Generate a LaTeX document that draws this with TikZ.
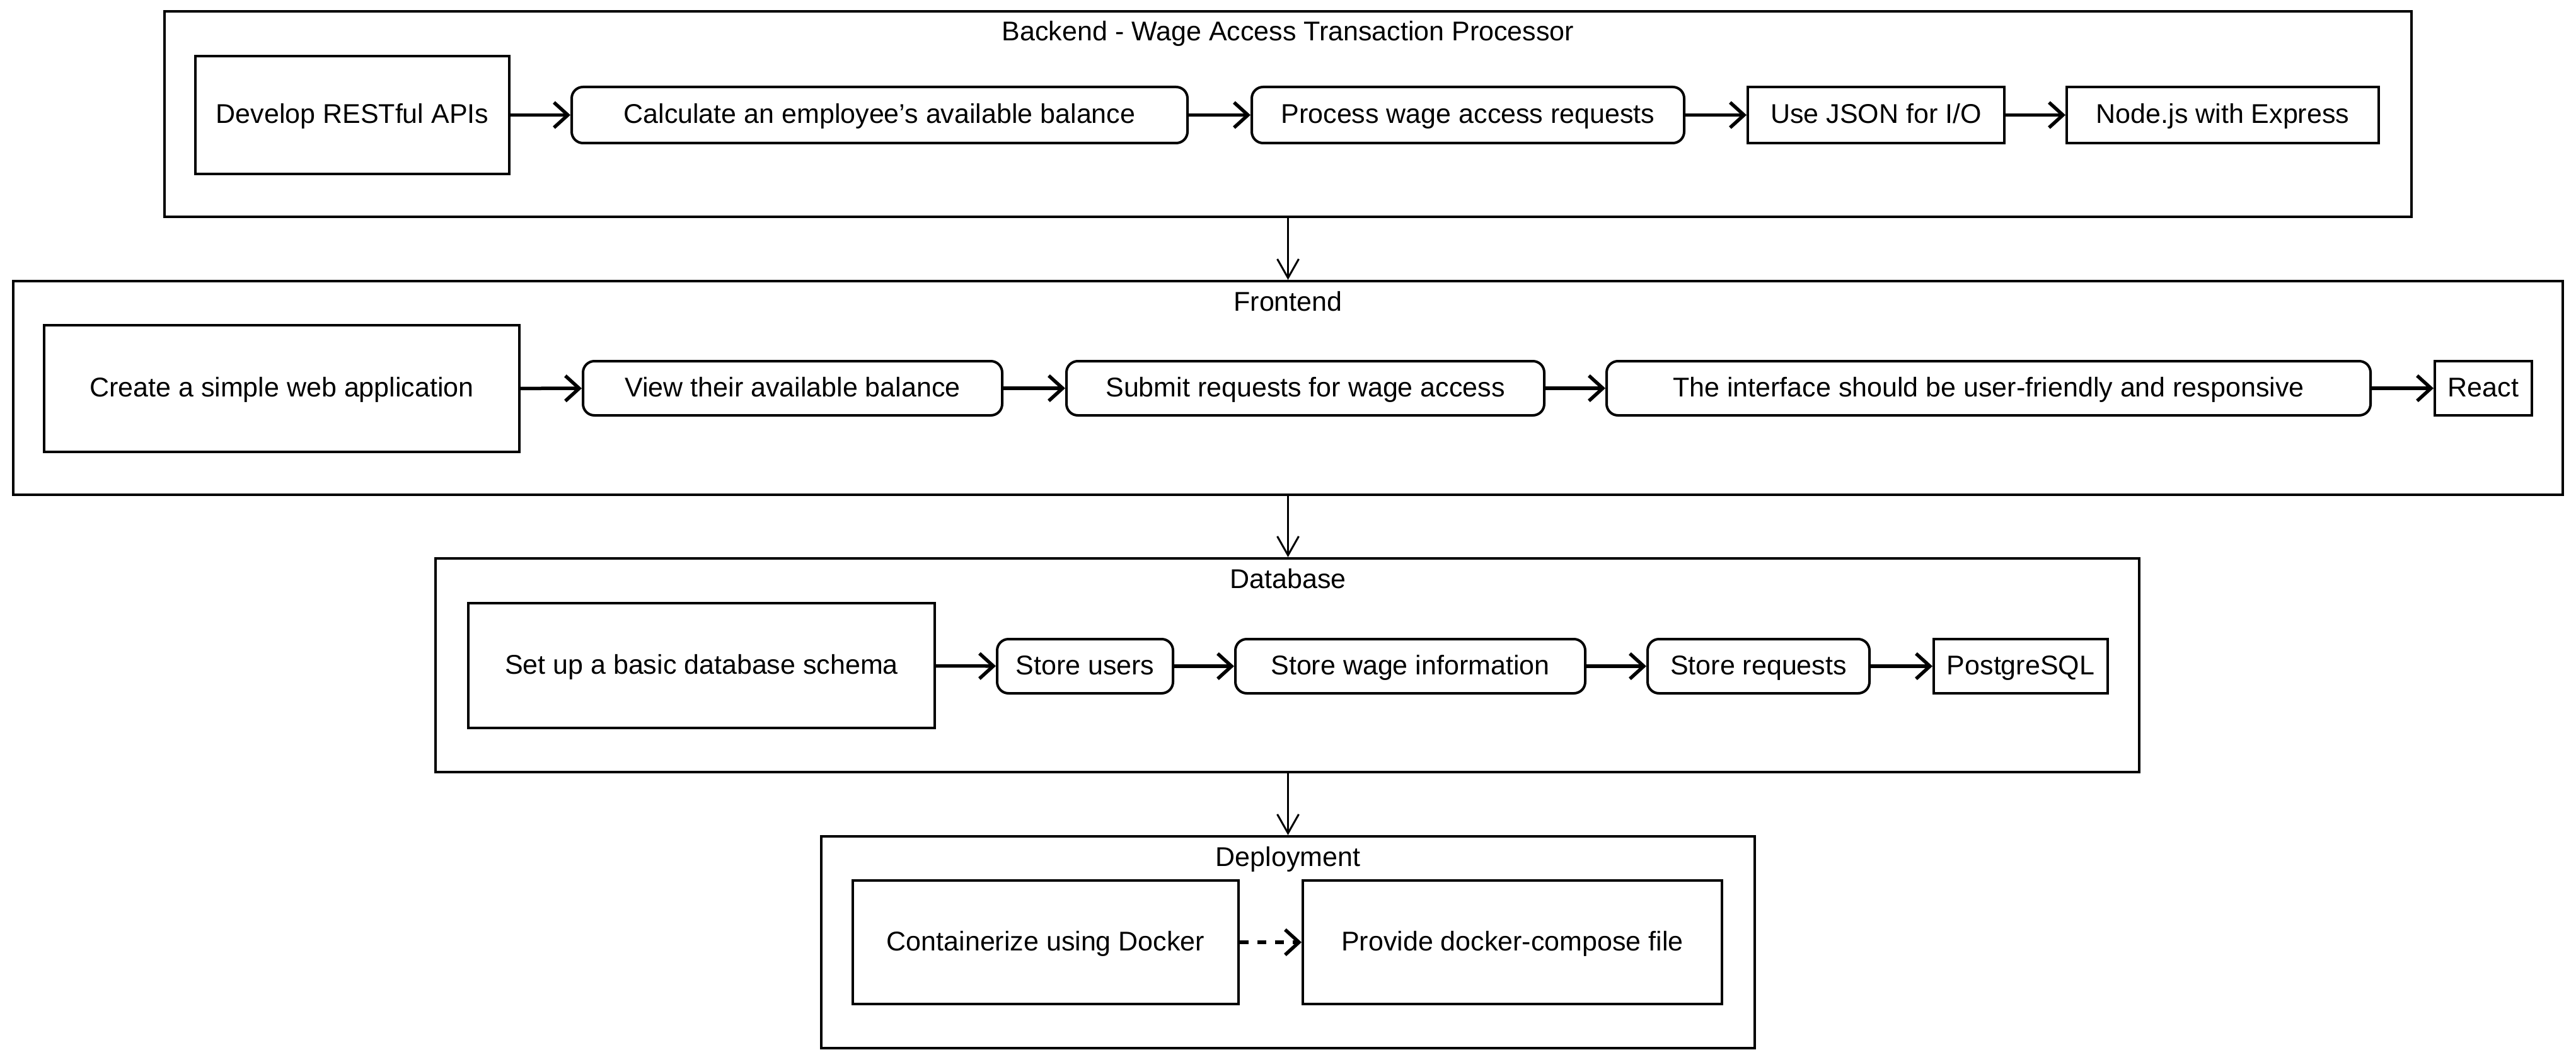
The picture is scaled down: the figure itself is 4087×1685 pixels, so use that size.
\documentclass[tikz,border=0pt]{standalone}
\usepackage{fontspec}
\setmainfont{Liberation Sans}
\usetikzlibrary{arrows.meta}
\begin{document}
\begin{tikzpicture}[x=1pt,y=-1pt,
  txt/.style={font=\fontsize{43}{50}\selectfont, text height=30pt, text depth=4pt},
  cont/.style={draw, line width=4pt, inner sep=0pt},
  box/.style={draw, line width=4pt, inner sep=0pt, align=center, txt},
  rbox/.style={box, rounded corners=18pt},
  arr/.style={line width=5.5pt, -{Straight Barb[length=22pt,width=40pt,line width=5.5pt]}},
  darr/.style={arr, dash pattern=on 14pt off 14pt},
  varr/.style={line width=3pt, -{Straight Barb[length=30pt,width=34pt,line width=3pt]}}
]
\useasboundingbox (0,0) rectangle (4087,1685);
\fill[white] (0,0) rectangle (4087,1685);

% Backend
\node[cont, minimum width=3565pt, minimum height=326pt] (cB) at (2043.5,181) {};
\node[txt] (tB) at (2043.5,52) {Backend - Wage Access Transaction Processor};
\node[box, minimum width=498pt, minimum height=187pt] (api) at (559,182.5) {Develop RESTful APIs};
\node[rbox, minimum width=977pt, minimum height=89pt] (calc) at (1395.5,182.5) {Calculate an employee's available balance};
\node[rbox, minimum width=686pt, minimum height=89pt] (proc) at (2329,182.5) {Process wage access requests};
\node[box, minimum width=407pt, minimum height=89pt] (json) at (2976.5,182.5) {Use JSON for I/O};
\node[box, minimum width=495pt, minimum height=89pt] (nodejs) at (3526.5,182.5) {Node.js with Express};
\draw[arr] (api) -- (calc);
\draw[arr] (calc) -- (proc);
\draw[arr] (proc) -- (json);
\draw[arr] (json) -- (nodejs);

% Frontend
\node[cont, minimum width=4045pt, minimum height=339pt] (cF) at (2043.5,615.5) {};
\node[txt] (tF) at (2043.5,480) {Frontend};
\node[box, minimum width=754pt, minimum height=201pt] (web) at (447,616.5) {Create a simple web application};
\node[rbox, minimum width=665pt, minimum height=86pt] (view) at (1257.5,616) {View their available balance};
\node[rbox, minimum width=758pt, minimum height=86pt] (submit) at (2071,616) {Submit requests for wage access};
\node[rbox, minimum width=1212pt, minimum height=86pt] (iface) at (3155,616) {The interface should be user-friendly and responsive};
\node[box, minimum width=154pt, minimum height=86pt] (react) at (3940,616) {React};
\draw[arr] (web) -- (view);
\draw[arr] (view) -- (submit);
\draw[arr] (submit) -- (iface);
\draw[arr] (iface) -- (react);

% Database
\node[cont, minimum width=2703pt, minimum height=339pt] (cD) at (2042.5,1055.5) {};
\node[txt] (tD) at (2043.5,920) {Database};
\node[box, minimum width=740pt, minimum height=198pt] (schema) at (1113,1056) {Set up a basic database schema};
\node[rbox, minimum width=279pt, minimum height=86pt] (users) at (1721.5,1057) {Store users};
\node[rbox, minimum width=555pt, minimum height=86pt] (wage) at (2237.5,1057) {Store wage information};
\node[rbox, minimum width=352pt, minimum height=86pt] (req) at (2790,1057) {Store requests};
\node[box, minimum width=276pt, minimum height=86pt] (pg) at (3206,1057) {PostgreSQL};
\draw[arr] (schema) -- (users);
\draw[arr] (users) -- (wage);
\draw[arr] (wage) -- (req);
\draw[arr] (req) -- (pg);

% Deployment
\node[cont, minimum width=1481pt, minimum height=336pt] (cP) at (2043.5,1495) {};
\node[txt] (tP) at (2043.5,1361) {Deployment};
\node[box, minimum width=612pt, minimum height=196pt] (docker) at (1659,1495) {Containerize using Docker};
\node[box, minimum width=665pt, minimum height=196pt] (compose) at (2399.5,1495) {Provide docker-compose file};
\draw[darr] (docker) -- (compose);

% Between containers
\draw[varr] (cB.south -| 2043.5,0) -- (cF.north -| 2043.5,0);
\draw[varr] (cF.south -| 2043.5,0) -- (cD.north -| 2043.5,0);
\draw[varr] (cD.south -| 2043.5,0) -- (cP.north -| 2043.5,0);
\end{tikzpicture}
\end{document}
